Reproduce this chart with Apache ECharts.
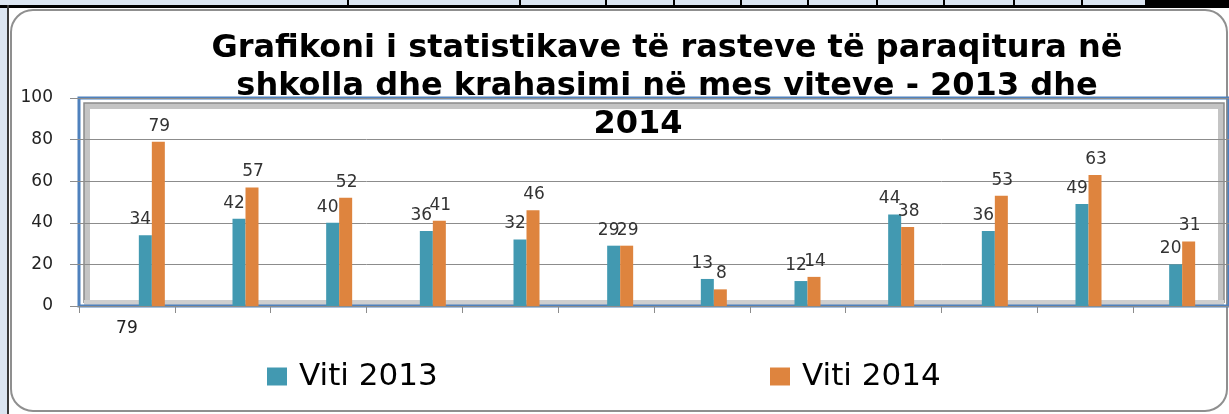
<!DOCTYPE html>
<html>
<head>
<meta charset="utf-8">
<script src="https://cdn.jsdelivr.net/npm/echarts@6/dist/echarts.min.js"></script>
<style>
  html, body { margin: 0; padding: 0; background: #fff; }
  #chart { width: 1229px; height: 414px; }
</style>
</head>
<body>
<div id="chart"></div>
<script>
// data
const categories = ['79', '', '', '', '', '', '', '', '', '', '', '']
const viti2013 = [34, 42, 40, 36, 32, 29, 13, 12, 44, 36, 49, 20]
const viti2014 = [79, 57, 52, 41, 46, 29, 8, 14, 38, 53, 63, 31]
const yMin = 0
const yMax = 100
const yStep = 20

const chart = echarts.init(document.getElementById('chart'))

// plot frame (axes) and a second grid shifted right for the bars (3D look)
const plot = { left: 79, top: 98, width: 1155, height: 208 }
const barShift = 26

const tableLines = [347, 519, 605, 673, 740, 807, 876, 943, 1013, 1081]

const titleStyle = {
  fontFamily: 'DejaVu Sans',
  fontWeight: 'bold',
  fontSize: 32,
  lineHeight: 38,
  color: '#000'
}

chart.setOption({
  backgroundColor: '#fff',
  animation: false,
  title: [
    {
      text: 'Grafikoni i statistikave të rasteve të paraqitura në\nshkolla dhe krahasimi në mes viteve - 2013 dhe',
      left: 662,
      top: 25,
      textAlign: 'center',
      z: 10,
      textStyle: titleStyle
    },
    {
      text: '2014',
      left: 633,
      top: 101,
      textAlign: 'center',
      z: 10,
      textStyle: titleStyle
    }
  ],
  legend: [
    {
      data: ['Viti 2013'],
      left: 262,
      top: 356,
      icon: 'rect',
      itemWidth: 20,
      itemHeight: 18,
      textStyle: { fontFamily: 'DejaVu Sans', fontSize: 31, color: '#000', padding: [0, 0, 0, 7] }
    },
    {
      data: ['Viti 2014'],
      left: 765,
      top: 356,
      icon: 'rect',
      itemWidth: 20,
      itemHeight: 18,
      textStyle: { fontFamily: 'DejaVu Sans', fontSize: 31, color: '#000', padding: [0, 0, 0, 7] }
    }
  ],
  grid: [
    {
      left: plot.left, top: plot.top, width: plot.width, height: plot.height,
      show: true, borderColor: '#4f81bd', borderWidth: 3, backgroundColor: 'transparent'
    },
    {
      left: plot.left + barShift, top: plot.top, width: plot.width, height: plot.height
    }
  ],
  xAxis: [
    {
      type: 'category',
      gridIndex: 0,
      data: categories,
      axisLine: { show: false },
      axisTick: { show: true, length: 7, lineStyle: { color: '#8c8c8c' } },
      axisLabel: { margin: 14, fontFamily: 'DejaVu Sans', fontSize: 17, color: '#222', interval: 0 }
    },
    {
      type: 'category',
      gridIndex: 1,
      data: categories,
      show: false
    }
  ],
  yAxis: [
    {
      type: 'value',
      gridIndex: 0,
      min: yMin,
      max: yMax,
      interval: yStep,
      axisLine: { show: false },
      axisTick: { show: true, length: 9, lineStyle: { color: '#8c8c8c' } },
      axisLabel: { margin: 26, fontFamily: 'DejaVu Sans', fontSize: 17, color: '#222' },
      splitLine: { lineStyle: { color: '#8c8c8c', width: 1 } }
    },
    {
      type: 'value',
      gridIndex: 1,
      min: yMin,
      max: yMax,
      interval: yStep,
      show: false,
      splitLine: { show: false }
    }
  ],
  series: [
    {
      name: 'Viti 2013',
      type: 'bar',
      xAxisIndex: 1,
      yAxisIndex: 1,
      data: viti2013,
      barWidth: 13,
      barGap: '0%',
      itemStyle: { color: '#4299b1' },
      label: {
        show: true, position: 'top', distance: 7, offset: [-5, 0],
        fontFamily: 'DejaVu Sans', fontSize: 17, color: '#333'
      }
    },
    {
      name: 'Viti 2014',
      type: 'bar',
      xAxisIndex: 1,
      yAxisIndex: 1,
      data: viti2014,
      barWidth: 13,
      barGap: '0%',
      itemStyle: { color: '#de843e' },
      label: {
        show: true, position: 'top', distance: 7, offset: [1, 0],
        fontFamily: 'DejaVu Sans', fontSize: 17, color: '#333'
      }
    }
  ],
  graphic: [
    // page strips around the chart object
    { type: 'rect', z: -5, shape: { x: 0, y: 0, width: 1229, height: 5 }, style: { fill: '#dbe5f1' } },
    { type: 'rect', z: -4, shape: { x: 0, y: 5, width: 1229, height: 3 }, style: { fill: '#000' } },
    { type: 'rect', z: -4, shape: { x: 1145, y: 0, width: 84, height: 8 }, style: { fill: '#000' } },
    ...tableLines.map(x => ({
      type: 'rect', z: -4, shape: { x: x, y: 0, width: 2, height: 6 }, style: { fill: '#000' }
    })),
    { type: 'rect', z: -5, shape: { x: 0, y: 0, width: 7, height: 414 }, style: { fill: '#dbe5f1' } },
    { type: 'rect', z: -4, shape: { x: 7, y: 5, width: 2, height: 409 }, style: { fill: '#3a3a3a' } },
    // rounded chart border
    {
      type: 'rect', z: -3,
      shape: { x: 11, y: 10, width: 1216, height: 401, r: 22 },
      style: { fill: 'none', stroke: '#8f8f8f', lineWidth: 2 }
    },
    // back wall / floor shading inside the plot frame
    {
      type: 'polyline', z: -1,
      shape: { points: [[87, 303], [87, 106], [1221, 106], [1221, 303]] },
      style: { fill: 'none', stroke: '#c4c4c4', lineWidth: 6 }
    },
    {
      type: 'polyline', z: -1,
      shape: { points: [[84, 303], [84, 103], [1224, 103], [1224, 303]] },
      style: { fill: 'none', stroke: '#8a8a8a', lineWidth: 1.5 }
    },
    {
      type: 'rect', z: -1,
      shape: { x: 84, y: 300, width: 1140, height: 5 },
      style: { fill: '#cfcfcf' }
    }
  ]
})
</script>
</body>
</html>
